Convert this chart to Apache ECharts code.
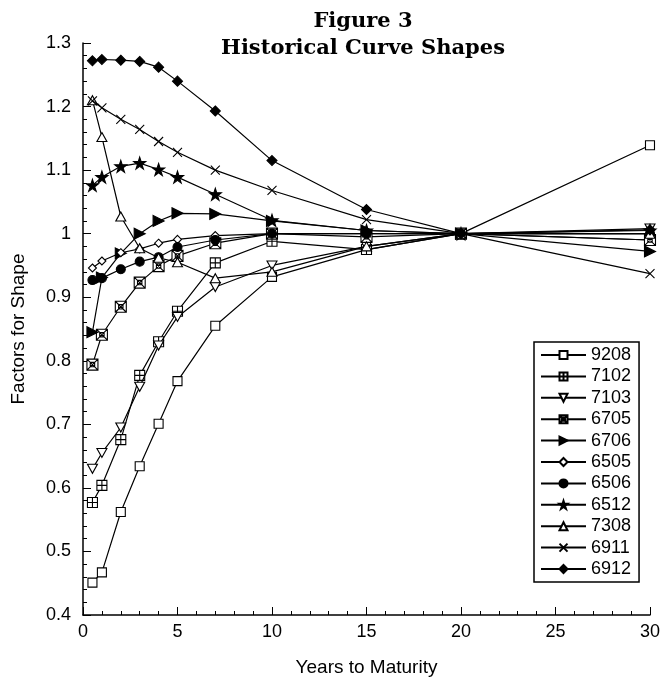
<!DOCTYPE html>
<html>
<head>
<meta charset="utf-8">
<script src="https://cdn.jsdelivr.net/npm/echarts@6/dist/echarts.min.js"></script>
<style>html,body{margin:0;padding:0;background:#fff;}#c{width:663px;height:683px;}</style>
</head>
<body>
<div id="c"></div>
<script>
var years = [0.5, 1, 2, 3, 4, 5, 7, 10, 15, 20, 30];
var yTicks = [0.4, 0.5, 0.6, 0.7, 0.8, 0.9, 1.0, 1.1, 1.2, 1.3];
var xTicks = [0, 5, 10, 15, 20, 25, 30];

var s9208 = [0.451, 0.467, 0.562, 0.634, 0.701, 0.768, 0.855, 0.932, 0.975, 1.0, 1.139];
var s7102 = [0.577, 0.604, 0.676, 0.777, 0.830, 0.878, 0.954, 0.988, 0.975, 1.0, 0.990];
var s7103 = [0.630, 0.655, 0.695, 0.759, 0.824, 0.869, 0.916, 0.950, 0.980, 1.0, 1.008];
var s6705 = [0.794, 0.841, 0.885, 0.923, 0.949, 0.965, 0.985, 1.000, 0.995, 1.0, 0.990];
var s6706 = [0.845, 0.931, 0.969, 1.000, 1.020, 1.032, 1.031, 1.020, 1.005, 1.0, 0.972];
var s6505 = [0.946, 0.957, 0.970, 0.976, 0.985, 0.991, 0.997, 1.000, 1.000, 1.0, 1.000];
var s6506 = [0.927, 0.930, 0.944, 0.956, 0.963, 0.979, 0.990, 1.000, 1.000, 1.0, 1.000];
var s6512 = [1.076, 1.089, 1.106, 1.111, 1.101, 1.089, 1.062, 1.021, 1.005, 1.0, 1.005];
var s7308 = [1.210, 1.152, 1.027, 0.977, 0.962, 0.955, 0.930, 0.940, 0.980, 1.0, 1.000];
var s6911 = [1.209, 1.198, 1.180, 1.164, 1.145, 1.128, 1.100, 1.068, 1.022, 1.0, 0.937];
var s6912 = [1.272, 1.274, 1.273, 1.271, 1.262, 1.240, 1.193, 1.115, 1.038, 1.0, 1.006];

var names = ['9208','7102','7103','6705','6706','6505','6506','6512','7308','6911','6912'];
var values = [s9208, s7102, s7103, s6705, s6706, s6505, s6506, s6512, s7308, s6911, s6912];

var SYM = {
  '9208': {symbol: 'rect', size: 9, fill: '#fff'},
  '7102': {symbol: 'path://M0,0 L10,0 L10,10 L0,10 Z M5,0 L5,10 M0,5 L10,5', size: 10, fill: '#fff'},
  '7103': {symbol: 'path://M0,0 L10,0 L5,9 Z', size: [10, 9], fill: '#fff'},
  '6705': {symbol: 'path://M0,0 L10,0 L10,10 L0,10 Z M3,3 L7,3 L7,7 L3,7 Z M0,0 L10,10 M10,0 L0,10', size: 11, fill: '#fff'},
  '6706': {symbol: 'path://M0,0 L10,5 L0,10 Z', size: [11, 11], fill: '#000'},
  '6505': {symbol: 'diamond', size: 8, fill: '#fff'},
  '6506': {symbol: 'circle', size: 9, fill: '#000'},
  '6512': {symbol: 'path://M5,0 L6.2,3.6 L10,3.6 L6.9,5.9 L8.1,9.5 L5,7.3 L1.9,9.5 L3.1,5.9 L0,3.6 L3.8,3.6 Z', size: 12, fill: '#000'},
  '7308': {symbol: 'path://M5,0 L10,9 L0,9 Z', size: [10, 9], fill: '#fff'},
  '6911': {symbol: 'path://M0,0 L10,10 M10,0 L0,10', size: 9, fill: '#000'},
  '6912': {symbol: 'diamond', size: 10, fill: '#000'}
};

var series = names.map(function (n, i) {
  var s = SYM[n];
  return {
    name: n,
    type: 'line',
    data: years.map(function (x, j) { return [x, values[i][j]]; }),
    symbol: s.symbol,
    symbolSize: s.size,
    showAllSymbol: true,
    lineStyle: {color: '#000', width: 1.2},
    itemStyle: {color: s.fill, borderColor: '#000', borderWidth: 1.1},
    emphasis: {disabled: true},
    z: 2 + i
  };
});

var chart = echarts.init(document.getElementById('c'), null, {renderer: 'canvas'});
chart.setOption({
  animation: false,
  backgroundColor: '#fff',
  title: {
    text: 'Figure 3\nHistorical Curve Shapes',
    left: 358, top: 3, textAlign: 'center',
    textStyle: {fontFamily: 'DejaVu Serif', fontWeight: 'bold', fontSize: 21, lineHeight: 27, color: '#000'}
  },
  legend: {
    orient: 'vertical',
    left: 534, top: 342,
    data: names,
    itemWidth: 45, itemHeight: 10, itemGap: 3.4,
    padding: [4, 8, 4, 6],
    borderColor: '#000', borderWidth: 1.5,
    backgroundColor: '#fff',
    textStyle: {fontFamily: 'Liberation Sans', fontSize: 18, lineHeight: 18, color: '#000'}
  },
  grid: {left: 83, right: 11, top: 43, bottom: 68},
  xAxis: {
    type: 'value', min: xTicks[0], max: xTicks[xTicks.length - 1], interval: 5,
    name: 'Years to Maturity', nameLocation: 'middle', nameGap: 43,
    nameTextStyle: {fontFamily: 'Liberation Sans', fontSize: 19, color: '#000'},
    axisLine: {lineStyle: {color: '#000', width: 1.5}},
    axisTick: {inside: true, length: 8, lineStyle: {color: '#000'}},
    minorTick: {show: true, splitNumber: 5, length: 4, lineStyle: {color: '#000'}},
    axisLabel: {fontFamily: 'Liberation Sans', fontSize: 18, color: '#000', margin: 8},
    splitLine: {show: false}
  },
  yAxis: {
    type: 'value', min: yTicks[0], max: yTicks[yTicks.length - 1], interval: 0.1,
    name: 'Factors for Shape', nameLocation: 'middle', nameGap: 55,
    nameTextStyle: {fontFamily: 'Liberation Sans', fontSize: 19, color: '#000'},
    axisLine: {show: true, lineStyle: {color: '#000', width: 1.5}},
    axisTick: {show: true, inside: true, length: 8, lineStyle: {color: '#000'}},
    minorTick: {show: true, splitNumber: 5, length: 4, lineStyle: {color: '#000'}},
    axisLabel: {fontFamily: 'Liberation Sans', fontSize: 18, color: '#000', margin: 12,
      formatter: function (v) { return String(Math.round(v * 10) / 10); }},
    splitLine: {show: false}
  },
  series: series
});
</script>
</body>
</html>
